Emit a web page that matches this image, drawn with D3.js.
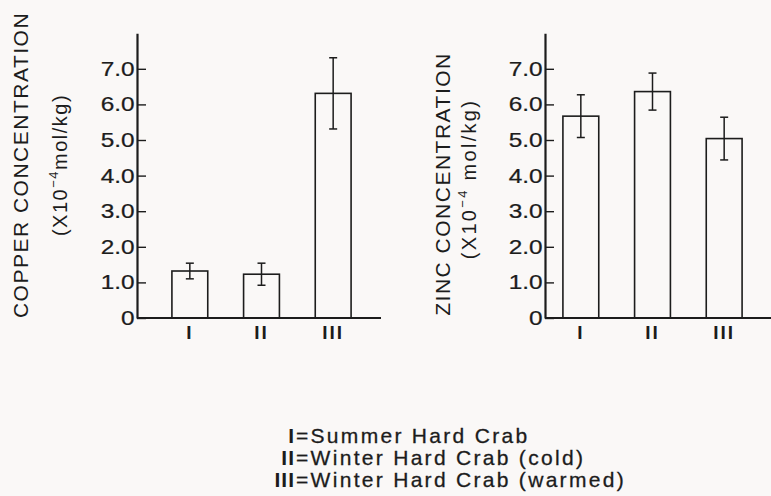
<!DOCTYPE html>
<html>
<head>
<meta charset="utf-8">
<script src="https://cdn.jsdelivr.net/npm/d3@7"></script>
<style>
  html, body { margin: 0; padding: 0; background: #faf8f7; }
  svg { display: block; }
  text { font-family: "Liberation Sans", Arial, Helvetica, sans-serif; fill: #1c1c1c; }
</style>
</head>
<body>
<svg id="chart" width="771" height="496"></svg>
<script>
// Sample groups
const categories = ["I", "II", "III"];

// Copper concentration (x10^-4 mol/kg): means and error half-widths
const copperMeans = [1.32, 1.23, 6.31];
const copperErrors = [0.22, 0.31, 1.0];

// Zinc concentration (x10^-4 mol/kg): means and error half-widths
const zincMeans = [5.67, 6.36, 5.04];
const zincErrors = [0.6, 0.52, 0.6];

// Y-axis ticks and their labels
const yTicks = [0, 1, 2, 3, 4, 5, 6, 7];
const yTickLabels = ["0", "1.0", "2.0", "3.0", "4.0", "5.0", "6.0", "7.0"];

// Key below the charts
const keyNumerals = ["I", "II", "III"];
const keyTexts = ["=Summer Hard Crab", "=Winter Hard Crab (cold)", "=Winter Hard Crab (warmed)"];

const svg = d3.select("#chart");
const ink = "#1c1c1c";

const y = d3.scaleLinear().domain([0, 8]).range([318, 33.2]);

function drawPanel(opts) {
  const g = svg.append("g");
  const x = d3.scaleBand()
    .domain(categories)
    .range(opts.bandRange)
    .paddingInner(0.5)
    .paddingOuter(0.25);

  // Y axis with inward ticks
  const yAxis = d3.axisLeft(y)
    .tickValues(yTicks)
    .tickFormat((d, i) => yTickLabels[i])
    .tickSize(-9)
    .tickSizeOuter(0)
    .tickPadding(2);
  const ya = g.append("g")
    .attr("transform", `translate(${opts.axisX},0)`)
    .call(yAxis);
  ya.attr("font-family", null).attr("font-size", null);
  ya.select(".domain").attr("stroke", ink).attr("stroke-width", 2.2);
  ya.selectAll(".tick line").attr("stroke", ink).attr("stroke-width", 1.4);
  ya.selectAll(".tick text")
    .attr("font-size", 20)
    .attr("transform", "scale(1.22,1)")
    .attr("fill", ink)
    .attr("stroke", ink)
    .attr("stroke-width", 0.25);

  // Baseline
  g.append("line")
    .attr("x1", opts.axisX).attr("x2", opts.baseEnd)
    .attr("y1", y(0)).attr("y2", y(0))
    .attr("stroke", ink).attr("stroke-width", 2.2);

  // Category labels
  const xAxis = d3.axisBottom(x).tickSize(0).tickPadding(8);
  const xa = g.append("g")
    .attr("transform", `translate(0,${y(0)})`)
    .call(xAxis);
  xa.select(".domain").remove();
  xa.attr("font-family", null).attr("font-size", null);
  xa.selectAll(".tick text")
    .attr("font-size", 19)
    .attr("letter-spacing", 2)
    .attr("font-weight", "bold")
    .attr("fill", ink);

  // Bars
  g.selectAll("rect.bar")
    .data(opts.means)
    .join("rect")
    .attr("class", "bar")
    .attr("x", (d, i) => x(categories[i]))
    .attr("y", d => y(d))
    .attr("width", x.bandwidth())
    .attr("height", d => y(0) - y(d))
    .attr("fill", "none")
    .attr("stroke", ink)
    .attr("stroke-width", 1.6);

  // Error bars
  const cap = 4;
  const eg = g.selectAll("g.err")
    .data(opts.means.map((m, i) => ({ c: categories[i], m, e: opts.errors[i] })))
    .join("g")
    .attr("class", "err")
    .attr("stroke", ink)
    .attr("stroke-width", 1.5);
  eg.append("line")
    .attr("x1", d => x(d.c) + x.bandwidth() / 2)
    .attr("x2", d => x(d.c) + x.bandwidth() / 2)
    .attr("y1", d => y(d.m + d.e))
    .attr("y2", d => y(d.m - d.e));
  eg.append("line")
    .attr("x1", d => x(d.c) + x.bandwidth() / 2 - cap)
    .attr("x2", d => x(d.c) + x.bandwidth() / 2 + cap)
    .attr("y1", d => y(d.m + d.e))
    .attr("y2", d => y(d.m + d.e));
  eg.append("line")
    .attr("x1", d => x(d.c) + x.bandwidth() / 2 - cap)
    .attr("x2", d => x(d.c) + x.bandwidth() / 2 + cap)
    .attr("y1", d => y(d.m - d.e))
    .attr("y2", d => y(d.m - d.e));

  // Axis titles (rotated)
  g.append("text")
    .attr("transform", `translate(${opts.titleX},${opts.titleY}) rotate(-90)`)
    .attr("text-anchor", "middle")
    .attr("font-size", 21)
    .attr("letter-spacing", 1.5)
    .attr("fill", opts.titleFill || ink)
    .text(opts.title);

  const t2 = g.append("text")
    .attr("transform", `translate(${opts.unitX},${opts.unitY}) rotate(-90)`)
    .attr("text-anchor", "middle")
    .attr("font-size", 20)
    .attr("letter-spacing", opts.unitSpacing)
    .attr("fill", ink);
  t2.append("tspan").text("(X10");
  t2.append("tspan").attr("dy", -9).attr("font-size", 13).text("\u22124");
  t2.append("tspan").attr("dy", 9).text(opts.unitGap + "mol/kg)");
}

// Faded ink on the copper title
const defs = svg.append("defs");
const grad = defs.append("linearGradient")
  .attr("id", "fade")
  .attr("gradientUnits", "userSpaceOnUse")
  .attr("x1", 0).attr("y1", 318).attr("x2", 0).attr("y2", 10);
grad.append("stop").attr("offset", "0").attr("stop-color", "#2a2a2a");
grad.append("stop").attr("offset", "0.55").attr("stop-color", "#3c3c3c");
grad.append("stop").attr("offset", "1").attr("stop-color", "#8a8a8a");

drawPanel({
  axisX: 137,
  bandRange: [154, 369],
  baseEnd: 381,
  means: copperMeans,
  errors: copperErrors,
  title: "COPPER CONCENTRATION",
  titleX: 28, titleY: 165,
  titleFill: "url(#fade)",
  unitX: 67, unitY: 165,
  unitGap: "",
  unitSpacing: 1.5
});

drawPanel({
  axisX: 545,
  bandRange: [545, 760],
  baseEnd: 771,
  means: zincMeans,
  errors: zincErrors,
  title: "ZINC CONCENTRATION",
  titleX: 450, titleY: 184,
  unitX: 476, unitY: 179,
  unitGap: " ",
  unitSpacing: 2.3
});

// Key
const key = svg.append("g");
const rowY = d3.scalePoint().domain(keyNumerals).range([443, 487]);
key.selectAll("text.num")
  .data(keyNumerals)
  .join("text")
  .attr("class", "num")
  .attr("x", 295)
  .attr("y", d => rowY(d))
  .attr("text-anchor", "end")
  .attr("font-size", 21)
  .attr("letter-spacing", 1)
  .attr("font-weight", "bold")
  .text(d => d);
key.selectAll("text.desc")
  .data(keyTexts)
  .join("text")
  .attr("class", "desc")
  .attr("x", 296)
  .attr("y", (d, i) => rowY(keyNumerals[i]))
  .attr("font-size", 21)
  .attr("letter-spacing", 2.3)
  .attr("stroke", ink)
  .attr("stroke-width", 0.3)
  .text(d => d);
</script>
</body>
</html>
